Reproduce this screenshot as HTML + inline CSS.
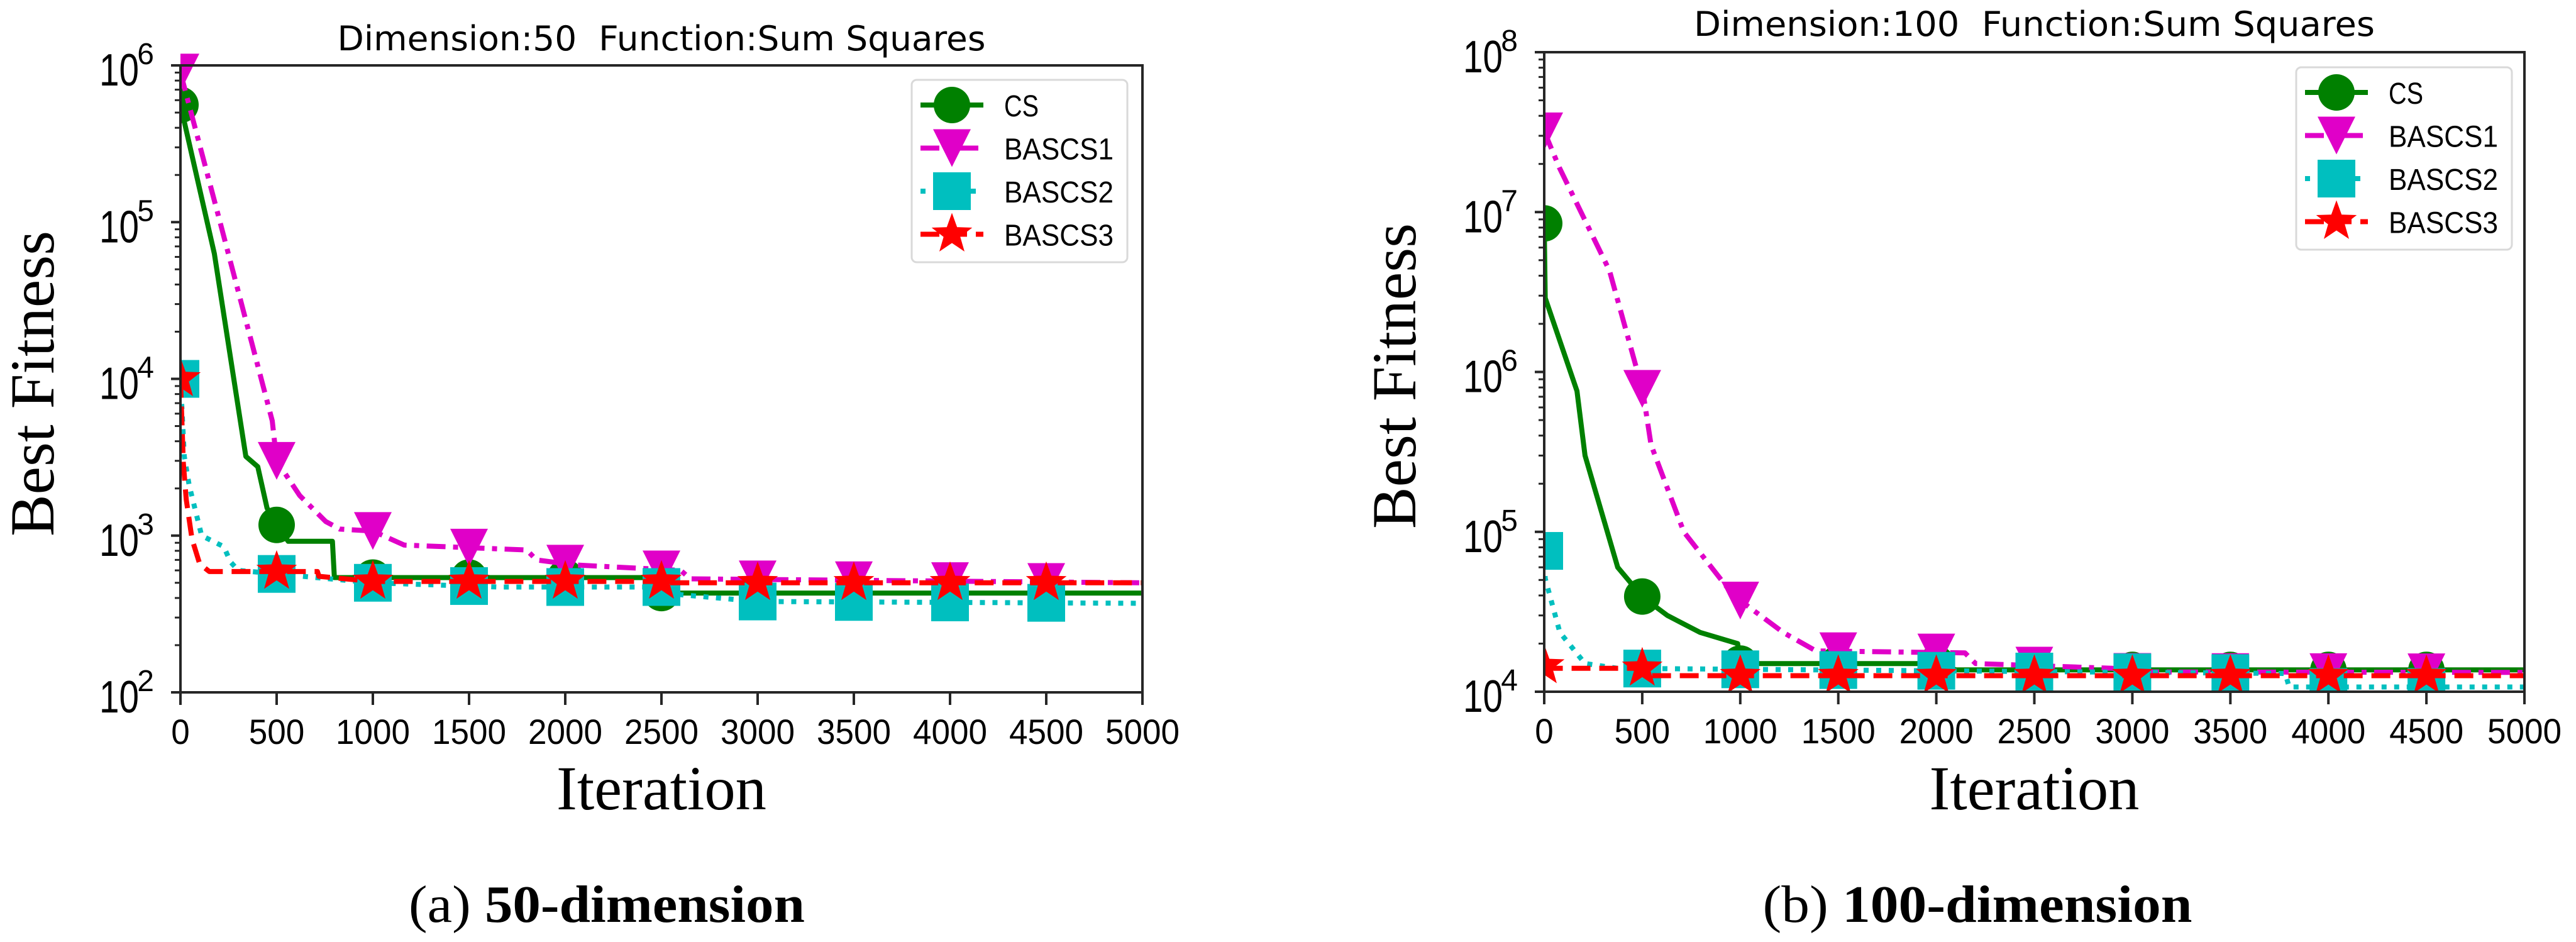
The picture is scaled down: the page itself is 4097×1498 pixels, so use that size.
<!DOCTYPE html>
<html><head><meta charset="utf-8"><style>
html,body{margin:0;padding:0;background:#fff;}
svg{display:block;}
</style></head><body>
<svg id="fig" width="4097" height="1498" viewBox="0 0 4097 1498" xmlns="http://www.w3.org/2000/svg">
<rect x="0" y="0" width="4097" height="1498" fill="#fff"/>
<g id="chartA"></g>
<g id="chartB"></g>
<text x="965" y="1466" text-anchor="middle" font-family="Liberation Serif, serif" font-size="84" textLength="630" lengthAdjust="spacingAndGlyphs">(a) <tspan font-weight="bold">50-dimension</tspan></text>
<text x="3145" y="1466" text-anchor="middle" font-family="Liberation Serif, serif" font-size="84" textLength="683" lengthAdjust="spacingAndGlyphs">(b) <tspan font-weight="bold">100-dimension</tspan></text>
</svg>
<script>
// ---- Chart A data (Dimension 50) ----
const xTicks = [0,500,1000,1500,2000,2500,3000,3500,4000,4500,5000];
const seriesNames = ["CS","BASCS1","BASCS2","BASCS3"];
const aYTicks = [2,3,4,5,6];
const aCSIter = [0,176,340,402,450,500,560,790,800,2450,2470,5000];
const aCSVal = [5.6e5,6.3e4,3.2e3,2.75e3,1.5e3,1.17e3,920,920,540,540,430,430];
const aB1Iter = [0,65,206,477,500,620,755,828,1000,1163,1800,1850,2050,2600,2650,5000];
const aB1Val = [9e5,4.5e5,1e5,5.4e3,3e3,1.8e3,1.23e3,1.1e3,1.07e3,870,810,700,650,600,530,500];
const aB2Iter = [0,20,45,110,225,260,300,1000,1650,2500,2600,3000,5000];
const aB2Val = [1e4,3.2e3,2.1e3,1e3,850,680,600,500,470,470,420,380,370];
const aB3Iter = [0,15,30,60,100,150,712,720,1000,2500,2550,5000];
const aB3Val = [1e4,2.9e3,1.7e3,950,660,590,590,550,510,510,500,500];
// ---- Chart B data (Dimension 100) ----
const bYTicks = [4,5,6,7,8];
const bCSIter = [0,5,167,208,375,503,628,795,987,1000,2000,2100,5000];
const bCSVal = [8.5e6,2.9e6,7.6e5,3e5,6e4,3.9e4,3e4,2.35e4,2e4,1.5e4,1.5e4,1.37e4,1.37e4];
const bB1Iter = [0,77,333,503,545,712,965,1219,1386,2146,2200,2900,3000,5000];
const bB1Val = [3.2e7,1.9e7,4.3e6,7.6e5,3.5e5,1e5,4e4,2.35e4,1.8e4,1.75e4,1.5e4,1.4e4,1.33e4,1.32e4];
const bB2Iter = [0,5,80,208,375,3780,3800,5000];
const bB2Val = [7.6e4,5.1e4,2.35e4,1.5e4,1.4e4,1.3e4,1.07e4,1.07e4];
const bB3Iter = [0,50,500,550,5000];
const bB3Val = [1.45e4,1.4e4,1.4e4,1.26e4,1.26e4];

const NS="http://www.w3.org/2000/svg";
function mk(tag, attrs, parent){const e=document.createElementNS(NS,tag);for(const k in attrs)e.setAttribute(k,attrs[k]);parent.appendChild(e);return e;}
const styles=[
 {color:"#008000",dash:"",marker:"circle"},
 {color:"#e000c8",dash:"30,12,8,12",marker:"tri"},
 {color:"#00bfbf",dash:"8,12",marker:"square"},
 {color:"#ff0000",dash:"30,14",marker:"star"}];
function drawMarker(g,type,cx,cy,color,name){
  let e;
  if(type==="circle"){e=mk("circle",{cx:cx,cy:cy,r:29,fill:color},g);}
  else if(type==="square"){e=mk("rect",{x:cx-30,y:cy-30,width:60,height:60,fill:color},g);}
  else if(type==="tri"){e=mk("polygon",{points:`${cx-30},${cy-30} ${cx+30},${cy-30} ${cx},${cy+30}`,fill:color},g);}
  else {let p=[];for(let i=0;i<10;i++){const r=i%2?14:34;const a=-Math.PI/2+i*Math.PI/5;p.push((cx+r*Math.cos(a)).toFixed(1)+","+(cy+r*Math.sin(a)).toFixed(1));}
    e=mk("polygon",{points:p.join(" "),fill:color},g);}
  
  
}
function interp(it,vals,x){
  for(let i=0;i<it.length-1;i++){if(x>=it[i]&&x<=it[i+1]){const t=(x-it[i])/(it[i+1]-it[i]||1);return Math.pow(10,Math.log10(vals[i])+t*(Math.log10(vals[i+1])-Math.log10(vals[i])));}}
  return vals[vals.length-1];
}
function drawChart(g,cfg){
  const X=v=>cfg.x0+(v/5000)*(cfg.x1-cfg.x0);
  const Y=v=>cfg.y1-(Math.log10(v)-cfg.lmin)/(cfg.lmax-cfg.lmin)*(cfg.y1-cfg.y0);
  const clip="clip"+cfg.id;
  const defs=mk("defs",{},g);const cp=mk("clipPath",{id:clip},defs);
  mk("rect",{x:cfg.x0,y:cfg.y0-40,width:cfg.x1-cfg.x0+40,height:cfg.y1-cfg.y0+40},cp);
  const t=mk("text",{x:(cfg.x0+cfg.x1)/2,y:cfg.titleY,"text-anchor":"middle","font-family":"DejaVu Sans, Liberation Sans, sans-serif","font-size":54,textLength:cfg.titleW,lengthAdjust:"spacingAndGlyphs"},g);
  t.textContent=cfg.title;
  
  
  seriesNames.forEach((nm,si)=>{
    const st=styles[si];const it=cfg.iters[si],vals=cfg.vals[si];
    const sg=mk("g",{"clip-path":`url(#${clip})`},g);
    
    
    const pts=it.map((x,i)=>X(x).toFixed(1)+","+Y(vals[i]).toFixed(1)).join(" ");
    const pl=mk("polyline",{points:pts,fill:"none",stroke:st.color,"stroke-width":8,"stroke-dasharray":st.dash,"stroke-linejoin":"round"},sg);
    
    
    for(let k=0;k<5000;k+=500){drawMarker(sg,st.marker,X(k),Y(interp(it,vals,k)),st.color,'marker-'+nm.toLowerCase()+'-'+k);}
  });
  const fr=mk("rect",{x:cfg.x0,y:cfg.y0,width:cfg.x1-cfg.x0,height:cfg.y1-cfg.y0,fill:"none",stroke:"#262626","stroke-width":4},g);
  
  
  xTicks.forEach(v=>{
    mk("line",{x1:X(v),x2:X(v),y1:cfg.y1,y2:cfg.y1+20,stroke:"#262626","stroke-width":4},g);
    const tl=mk("text",{x:X(v),y:cfg.y1+82,"text-anchor":"middle","font-family":"Liberation Sans, sans-serif","font-size":56,textLength:(String(v).length*29.5),lengthAdjust:"spacingAndGlyphs"},g);
    tl.textContent=v;
    
    
  });
  cfg.yTicks.forEach((p,i)=>{
    const yy=Y(Math.pow(10,p));
    mk("line",{x1:cfg.x0-15,x2:cfg.x0,y1:yy,y2:yy,stroke:"#262626","stroke-width":4},g);
    if(i<cfg.yTicks.length-1){for(let m=2;m<10;m++){const ym=Y(m*Math.pow(10,p));mk("line",{x1:cfg.x0-9,x2:cfg.x0,y1:ym,y2:ym,stroke:"#262626","stroke-width":3},g);}}
    const tl=mk("text",{x:cfg.x0-42-24,y:yy+32,"text-anchor":"end","font-family":"Liberation Sans, sans-serif","font-size":72,textLength:63,lengthAdjust:"spacingAndGlyphs"},g);
    tl.textContent="10";
    
    
    const sp=mk("text",{x:cfg.x0-42,y:yy-2,"text-anchor":"end","font-family":"Liberation Sans, sans-serif","font-size":48},g);
    sp.textContent=p;
    
    
  });
  const yl=mk("text",{x:0,y:0,transform:`translate(${cfg.ylabX},${cfg.ylabY}) rotate(-90)`,"text-anchor":"middle","font-family":"Liberation Serif, serif","font-size":100,textLength:486,lengthAdjust:"spacingAndGlyphs"},g);
  yl.textContent="Best Fitness";
  
  
  const xl=mk("text",{x:(cfg.x0+cfg.x1)/2,y:1287,"text-anchor":"middle","font-family":"Liberation Serif, serif","font-size":100,textLength:334,lengthAdjust:"spacingAndGlyphs"},g);
  xl.textContent="Iteration";
  
  
  const lg=mk("g",{},g);
  
  
  mk("rect",{x:cfg.lx,y:cfg.ly,width:343,height:290,rx:8,fill:"#fff",stroke:"#d9d9d9","stroke-width":3},lg);
  seriesNames.forEach((nm,si)=>{
    const st=styles[si];const yy=cfg.ly+40+si*68.5;const mx=cfg.lx+64;
    const eg=mk("g",{},lg);
    
    
    mk("line",{x1:mx-50,x2:mx+50,y1:yy,y2:yy,stroke:st.color,"stroke-width":8,"stroke-dasharray":st.dash},eg);
    drawMarker(eg,st.marker,mx,yy,st.color,'legend-marker-'+nm.toLowerCase());
    const tx=mk("text",{x:cfg.lx+147,y:yy+18,"font-family":"Liberation Sans, sans-serif","font-size":48,textLength:(nm.length===2?55:174),lengthAdjust:"spacingAndGlyphs"},eg);
    tx.textContent=nm;
  });
}
drawChart(document.getElementById("chartA"),{id:"A",x0:287,x1:1817,y0:104,y1:1101,lmin:2,lmax:6,yTicks:aYTicks,
  title:"Dimension:50\u00a0\u00a0Function:Sum Squares",titleY:80,titleW:1031,ylabX:85,ylabY:610,lx:1450,ly:127,
  iters:[aCSIter,aB1Iter,aB2Iter,aB3Iter],vals:[aCSVal,aB1Val,aB2Val,aB3Val]});
drawChart(document.getElementById("chartB"),{id:"B",x0:2456,x1:4015,y0:83,y1:1100,lmin:4,lmax:8,yTicks:bYTicks,
  title:"Dimension:100\u00a0\u00a0Function:Sum Squares",titleY:57,titleW:1083,ylabX:2251,ylabY:598,lx:3652,ly:107,
  iters:[bCSIter,bB1Iter,bB2Iter,bB3Iter],vals:[bCSVal,bB1Val,bB2Val,bB3Val]});
</script>
</body></html>
